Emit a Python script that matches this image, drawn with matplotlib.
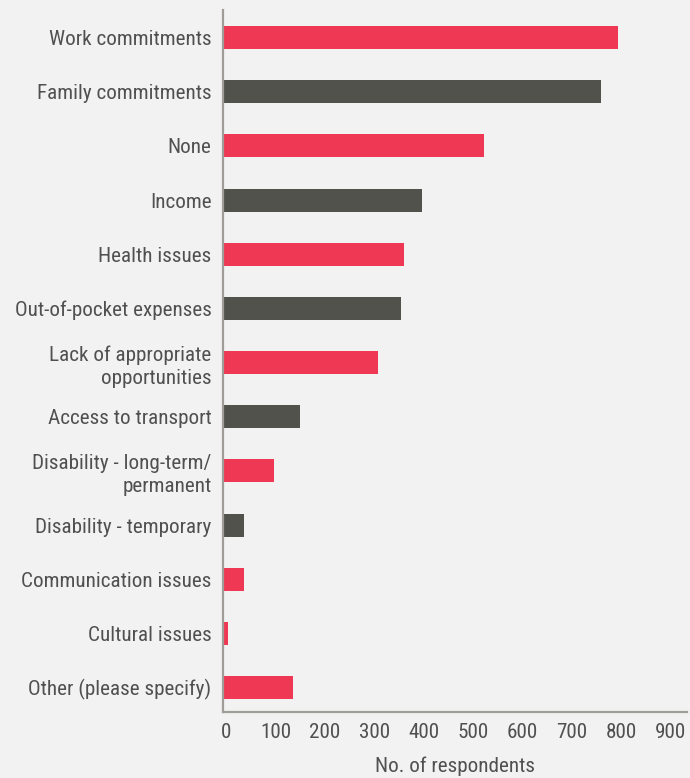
import matplotlib
matplotlib.use("Agg")
import matplotlib.pyplot as plt
import matplotlib.transforms as mtransforms
import numpy as np

categories = [
    "Work commitments",
    "Family commitments",
    "None",
    "Income",
    "Health issues",
    "Out-of-pocket expenses",
    "Lack of appropriate\nopportunities",
    "Access to transport",
    "Disability - long-term/\npermanent",
    "Disability - temporary",
    "Communication issues",
    "Cultural issues",
    "Other (please specify)",
]
respondents = [802, 768, 530, 405, 368, 362, 315, 157, 104, 44, 44, 11, 143]
bar_group = ["red", "dark", "red", "dark", "red", "dark", "red",
             "dark", "red", "dark", "red", "red", "red"]
xticks = [0, 100, 200, 300, 400, 500, 600, 700, 800, 900]

RED = "#EF3954"
DARK = "#52524D"
BG = "#F2F2F2"
AXIS = "#A09C98"
INK = "#505050"

plt.rcParams["font.family"] = ["Roboto Condensed", "Liberation Sans Narrow", "Roboto", "DejaVu Sans"]

fig = plt.figure(figsize=(6.9, 7.78), dpi=100, facecolor=BG)
ax = fig.add_axes([222.5 / 690, 1 - 712 / 778, (687 - 222.5) / 690, (712 - 10) / 778])
ax.set_facecolor(BG)

y = np.arange(len(categories))
colors = [RED if g == "red" else DARK for g in bar_group]
ax.barh(y, respondents, height=0.425, color=colors, zorder=3)

ax.set_ylim(len(categories) - 1 + 0.452, -0.508)
ax.set_xlim(0, 942)
ax.set_yticks(y)
ax.set_yticklabels(categories, fontsize=15.2, color=INK, linespacing=1.3)
ax.set_xticks(xticks)
ax.set_xticklabels([str(v) for v in xticks], fontsize=15.2, color=INK)
ax.tick_params(axis="both", length=0)
ax.tick_params(axis="y", pad=8)
ax.tick_params(axis="x", pad=8)

shift = mtransforms.ScaledTranslation(0.04, 0, fig.dpi_scale_trans)
for lbl in ax.get_xticklabels():
    lbl.set_transform(lbl.get_transform() + shift)

ax.set_xlabel("No. of respondents", fontsize=15.2, color=INK, labelpad=10)

for s in ("top", "right"):
    ax.spines[s].set_visible(False)
for s in ("left", "bottom"):
    ax.spines[s].set_color(AXIS)
    ax.spines[s].set_linewidth(1.6)
    ax.spines[s].set_zorder(4)

fig.savefig("out.png", dpi=100, facecolor=BG)
